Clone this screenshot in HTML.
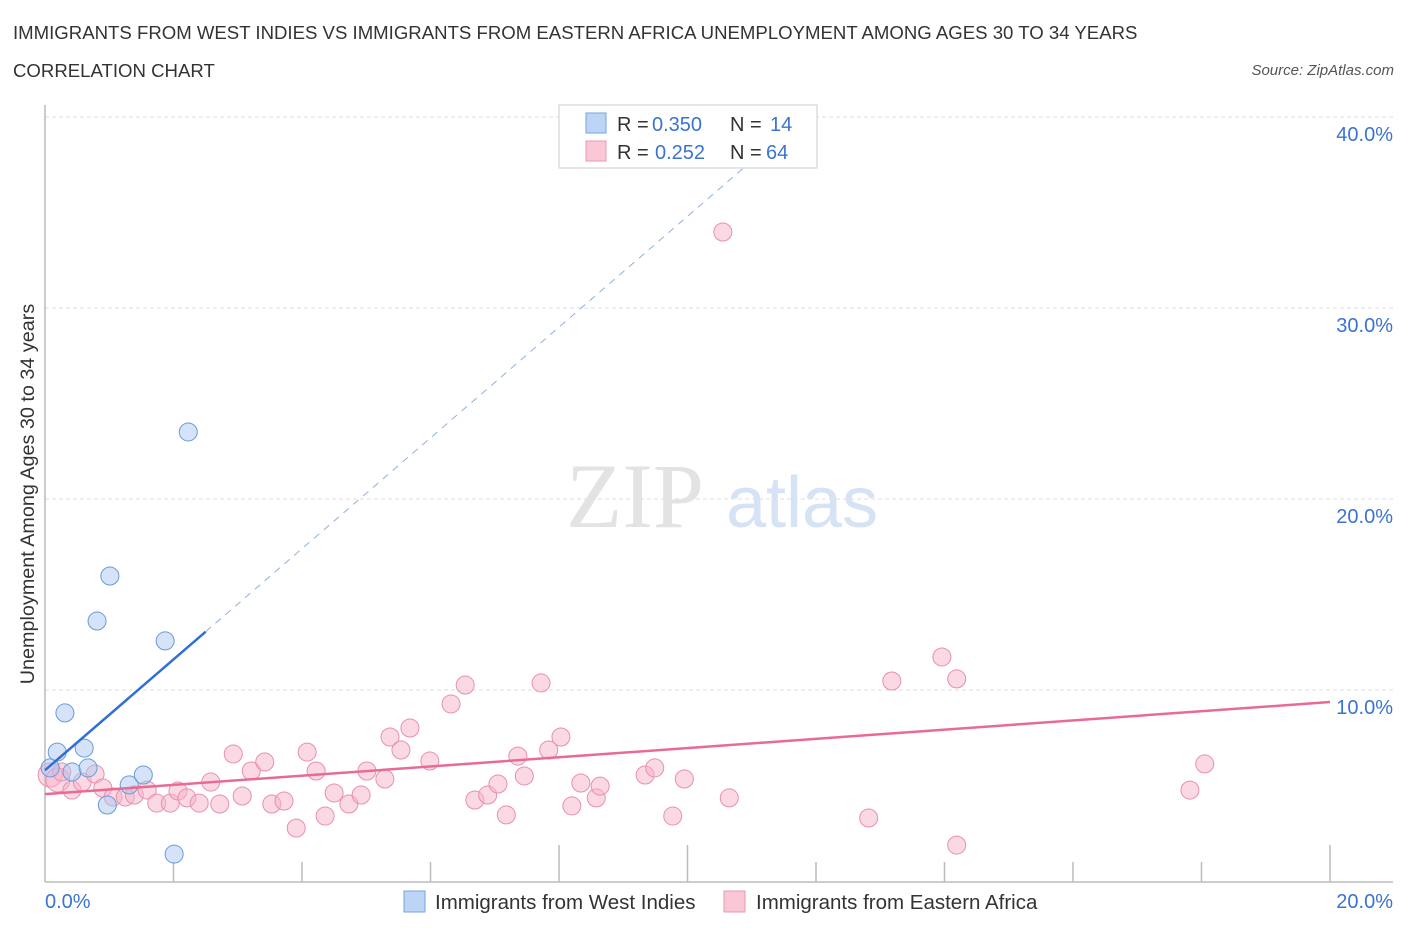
<!DOCTYPE html>
<html><head><meta charset="utf-8">
<style>
body{margin:0;background:#fff;font-family:"Liberation Sans",sans-serif;}
#wrap{position:relative;width:1406px;height:930px;overflow:hidden;}
.t{position:absolute;white-space:nowrap;}
</style></head>
<body>
<div id="wrap">
<div class="t" style="left:13px;top:22px;font-size:18.6px;color:#333;">IMMIGRANTS FROM WEST INDIES VS IMMIGRANTS FROM EASTERN AFRICA UNEMPLOYMENT AMONG AGES 30 TO 34 YEARS</div>
<div class="t" style="left:13px;top:60px;font-size:18.6px;color:#333;">CORRELATION CHART</div>
<div class="t" style="right:12px;top:62px;font-size:15px;color:#555;font-style:italic;">Source: ZipAtlas.com</div>
<svg id="chart" width="1406" height="930" style="position:absolute;left:0;top:0"></svg>
</div>
<script>
const xTicks=[0,20];
const yTicks=[10,20,30,40];
const blueX=[0.08,0.19,0.31,0.42,0.61,0.67,0.81,0.97,1.01,1.31,1.53,1.87,2.01,2.23];
const blueY=[5.92,6.75,8.80,5.71,6.96,5.92,13.61,3.98,15.97,5.03,5.55,12.57,1.41,23.51];
const pinkX=[0.08,0.2,0.26,0.42,0.58,0.78,0.9,1.06,1.25,1.39,1.59,1.74,1.95,2.07,2.21,2.40,2.58,2.72,2.93,3.07,3.21,3.42,3.53,3.72,3.91,4.08,4.22,4.36,4.50,4.73,4.92,5.01,5.29,5.37,5.54,5.68,5.99,6.32,6.54,6.69,6.89,7.05,7.18,7.36,7.46,7.72,7.84,8.03,8.20,8.34,8.58,8.64,9.34,9.49,9.77,9.95,10.55,10.65,12.82,13.18,13.96,14.19,14.19,17.82,18.05];
const pinkY=[5.55,5.29,5.71,4.76,5.18,5.60,4.87,4.40,4.40,4.50,4.76,4.08,4.08,4.71,4.35,4.08,5.18,4.03,6.65,4.45,5.76,6.23,4.03,4.19,2.77,6.75,5.76,3.40,4.61,4.03,4.50,5.76,5.34,7.54,6.86,8.01,6.28,9.27,10.26,4.24,4.50,5.08,3.46,6.54,5.50,10.37,6.86,7.54,3.93,5.13,4.35,4.97,5.55,5.92,3.40,5.34,33.98,4.35,3.30,10.47,11.73,10.58,1.88,4.76,6.13];
const blueTrend=[5.8,2.9];
const pinkTrend=[4.55,0.241];

const svg=document.getElementById('chart');
const NS='http://www.w3.org/2000/svg';
const X=v=>45+v*64.25;
const Y=v=>881-v*19.1;
function mk(tag,attrs,parent){const e=document.createElementNS(NS,tag);for(const k in attrs)e.setAttribute(k,attrs[k]);(parent||svg).appendChild(e);return e;}

yTicks.forEach(v=>{
  const g=mk('line',{x1:45,x2:1393,y1:Y(v),y2:Y(v),stroke:'#ddd','stroke-dasharray':'4,3'});
  
  
  const t=mk('text',{x:1393,y:Y(v)+24,'text-anchor':'end','font-size':20,fill:'#3b73d1','font-family':'Liberation Sans, sans-serif'});
  t.textContent=v.toFixed(1)+'%';
  
  
});
const ax=mk('line',{x1:45,x2:1393,y1:882,y2:882,stroke:'#bbb','stroke-width':1.5});


const ay=mk('line',{x1:45,x2:45,y1:105,y2:882,stroke:'#bbb','stroke-width':1.5});


for(let i=1;i<=10;i++){
  const v=i*2;
  const tall=(i===4||i===5||i===10);
  const tk=mk('line',{x1:X(v),x2:X(v),y1:tall?845:862,y2:882,stroke:'#bbb','stroke-width':1.5});
  
  
}
xTicks.forEach((v,i)=>{
  const t=mk('text',{x:i===0?45:1393,y:908,'text-anchor':i===0?'start':'end','font-size':20,fill:'#3b73d1','font-family':'Liberation Sans, sans-serif'});
  t.textContent=v.toFixed(1)+'%';
  
  
});
const w1=mk('text',{x:635,y:527,'text-anchor':'middle','font-size':92,fill:'#e3e3e3','font-family':'Liberation Serif, serif'});
w1.textContent='ZIP';


const w2=mk('text',{x:802,y:527,'text-anchor':'middle','font-size':72,fill:'#d5e3f5','font-family':'Liberation Sans, sans-serif'});
w2.textContent='atlas';



pinkX.forEach((x,i)=>{
  const c=mk('circle',{cx:X(x),cy:Y(pinkY[i]),r:i<2?12:9,fill:'rgba(248,180,202,0.5)',stroke:'#e88fac','stroke-width':1});
  
  
});
blueX.forEach((x,i)=>{
  const c=mk('circle',{cx:X(x),cy:Y(blueY[i]),r:9,fill:'rgba(170,200,240,0.5)',stroke:'#6a9ad8','stroke-width':1});
  
  
});
const bEnd=2.5, bTop=10.9;
const bl=mk('line',{x1:X(0),y1:Y(blueTrend[0]),x2:X(bEnd),y2:Y(blueTrend[0]+blueTrend[1]*bEnd),stroke:'#2f6fd6','stroke-width':2.5});


const bd=mk('line',{x1:X(bEnd),y1:Y(blueTrend[0]+blueTrend[1]*bEnd),x2:X(bTop),y2:Y(blueTrend[0]+blueTrend[1]*bTop),stroke:'#8fb0e0','stroke-width':1,'stroke-dasharray':'7,6'});


const pl=mk('line',{x1:X(0),y1:Y(pinkTrend[0]),x2:X(20),y2:Y(pinkTrend[0]+pinkTrend[1]*20),stroke:'#e86b93','stroke-width':2.5});



const yt=mk('text',{x:0,y:0,transform:'translate(34,494) rotate(-90)','text-anchor':'middle','font-size':19.8,fill:'#333','font-family':'Liberation Sans, sans-serif'});
yt.textContent='Unemployment Among Ages 30 to 34 years';



const lg=mk('g',{});


mk('rect',{x:559,y:105,width:258,height:63,fill:'#fff',stroke:'#ccc'},lg);
mk('rect',{x:586,y:113,width:20,height:20,fill:'#bcd4f5',stroke:'#7aa3dc'},lg);
mk('rect',{x:586,y:141,width:20,height:20,fill:'#f9c7d6',stroke:'#e99ab3'},lg);
[['R = ','0.350','N = ','14',131],['R = ','0.252','N = ','64',159]].forEach((r,i)=>{
  const t=mk('text',{x:617,y:r[4],'font-size':20,fill:'#333','font-family':'Liberation Sans, sans-serif'},lg);
  t.innerHTML=`${r[0]}<tspan fill="#3b73d1" x="${i?655:652}">${r[1]}</tspan><tspan x="730">${r[2]}</tspan><tspan fill="#3b73d1" x="${i?766:770}">${r[3]}</tspan>`;
  
  
});
const bl2=mk('g',{});


mk('rect',{x:404,y:891,width:21,height:21,fill:'#bcd4f5',stroke:'#7aa3dc'},bl2);
const l1=mk('text',{x:435,y:909,'font-size':20.5,fill:'#333','font-family':'Liberation Sans, sans-serif'},bl2);
l1.textContent='Immigrants from West Indies';


mk('rect',{x:724,y:891,width:21,height:21,fill:'#f9c7d6',stroke:'#e99ab3'},bl2);
const l2=mk('text',{x:756,y:909,'font-size':20.5,fill:'#333','font-family':'Liberation Sans, sans-serif'},bl2);
l2.textContent='Immigrants from Eastern Africa';


</script>
</body></html>
